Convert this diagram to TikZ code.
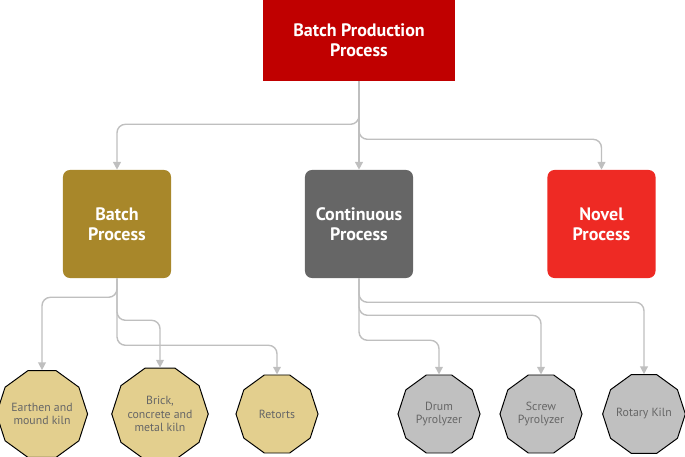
\documentclass[tikz,border=0pt]{standalone}
\usepackage{fontspec}
\setmainfont{PT Sans}
\usepackage{tikz}
\usetikzlibrary{arrows.meta, shapes.geometric}
\definecolor{topred}{HTML}{C00000}
\definecolor{batchgold}{HTML}{A8872A}
\definecolor{contgray}{HTML}{666666}
\definecolor{novelred}{HTML}{EE2A24}
\definecolor{lightgold}{HTML}{E3CF8E}
\definecolor{lightgray}{HTML}{C0C0C0}
\definecolor{linkgray}{HTML}{BFBFBF}
\tikzset{>={Triangle[width=5.5pt,length=5.5pt]}}

\begin{document}
\begin{tikzpicture}[x=0.025cm, y=-0.025cm,
    procbox/.style={rectangle, rounded corners=5pt, minimum width=2.7cm,
      minimum height=2.7cm, text=white, align=center,
      font=\fontsize{12.8}{14.5}\selectfont\bfseries},
    kiln/.style={regular polygon, regular polygon sides=10, draw=black,
      line width=0.7pt, minimum size=2.05cm, inner sep=0pt, text=contgray,
      align=center, font=\fontsize{8.4}{9.5}\selectfont},
    link/.style={draw=linkgray, line width=1pt, rounded corners=6pt, ->}]
                    \useasboundingbox (0,0) rectangle (685,457);

                    \node[procbox, fill=topred, rounded corners=0pt,
                    minimum width=4.8cm, minimum height=2.025cm] (prod) at (359,40.5)
                    {Batch Production\\Process};

                    \node[procbox, fill=batchgold] (batch) at (117,224) {Batch\\Process};
                    \node[procbox, fill=contgray] (cont) at (359,224) {Continuous\\Process};
                    \node[procbox, fill=novelred] (novel) at (601.5,224) {Novel\\Process};

                    % batch kilns
                    \node[kiln, fill=lightgold] (earthen) at (42,414) {Earthen and\\mound kiln};
                    \node[kiln, fill=lightgold] (brick) at (160,414) {Brick,\\concrete and\\metal kiln};
                    \node[kiln, fill=lightgold] (retorts) at (277,414) {Retorts};

                    % continuous kilns
                    \node[kiln, fill=lightgray] (drum) at (439,414) {Drum\\Pyrolyzer};
                    \node[kiln, fill=lightgray] (screw) at (541,414) {Screw\\Pyrolyzer};
                    \node[kiln, fill=lightgray] (rotary) at (644,414) {Rotary Kiln};

                    \draw[link] (prod.south) -- ++(0,43) -| (batch.north);
                    \draw[link] (prod.south) -- (cont.north);
                    \draw[link] (prod.south) -- ++(0,58) -| (novel.north);

                    \draw[link] (batch.south) -- ++(0,19) -| (earthen.north);
                    \draw[link] (batch.south) -- ++(0,42) -| (brick.north);
                    \draw[link] (batch.south) -- ++(0,67) -| (retorts.north);

                    \draw[link] (cont.south) -- ++(0,62) -| (drum.north);
                    \draw[link] (cont.south) -- ++(0,37) -| (screw.north);
                    \draw[link] (cont.south) -- ++(0,24) -| (rotary.north);
\end{tikzpicture}
\end{document}
